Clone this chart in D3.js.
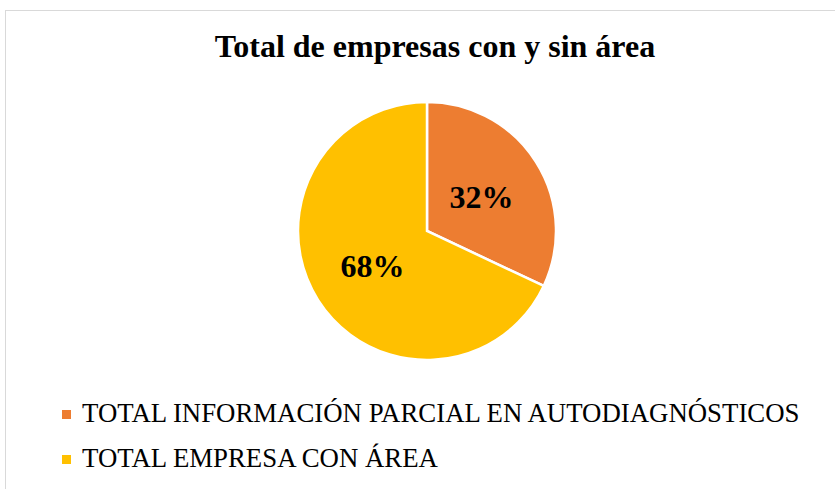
<!DOCTYPE html>
<html>
<head>
<meta charset="utf-8">
<script src="https://cdn.jsdelivr.net/npm/d3@7"></script>
<style>
    body { margin: 0; background: #fff; }
</style>
</head>
<body>
<div id="chart"></div>
<script>
var title = "Total de empresas con y sin área";
var categories = ["TOTAL INFORMACIÓN PARCIAL EN AUTODIAGNÓSTICOS", "TOTAL EMPRESA CON ÁREA"];
var values = [32, 68];
var colors = ["#ED7D31", "#FFC000"];

var width = 835, height = 489;
var cx = 427, cy = 231, radius = 129;

var svg = d3.select("#chart").append("svg")
    .attr("width", width)
    .attr("height", height);

//Chart frame
svg.append("rect")
    .attr("x", 5.5).attr("y", 10.5)
    .attr("width", 840).attr("height", 490)
    .attr("fill", "none")
    .attr("stroke", "#d9d9d9")
    .attr("stroke-width", 1);

svg.append("text")
    .attr("x", 435).attr("y", 57)
    .attr("text-anchor", "middle")
    .attr("font-family", "Liberation Serif, serif")
    .attr("font-weight", "bold")
    .attr("font-size", 32)
    .text(title);

var pie = d3.pie().sort(null).value(function (d) { return d; });
var arcs = pie(values);
var arc = d3.arc().innerRadius(0).outerRadius(radius);
var labelArc = d3.arc().innerRadius(radius * 0.5).outerRadius(radius * 0.5);

var g = svg.append("g").attr("transform", "translate(" + cx + "," + cy + ")");

g.selectAll("path")
    .data(arcs)
    .enter().append("path")
    .attr("d", arc)
    .attr("fill", function (d, i) { return colors[i]; })
    .attr("stroke", "#fff")
    .attr("stroke-width", 2.5);

var total = d3.sum(values);
g.selectAll("text")
    .data(arcs)
    .enter().append("text")
    .attr("transform", function (d) { return "translate(" + labelArc.centroid(d) + ")"; })
    .attr("text-anchor", "middle")
    .attr("dy", "0.35em")
    .attr("font-family", "Liberation Serif, serif")
    .attr("font-weight", "bold")
    .attr("font-size", 32)
    .text(function (d) { return Math.round(d.data / total * 100) + "%"; });

//Legend
var legend = svg.selectAll(".legend")
    .data(categories)
    .enter().append("g")
    .attr("class", "legend")
    .attr("transform", function (d, i) { return "translate(62," + (422 + i * 45) + ")"; });

legend.append("rect")
    .attr("x", 0).attr("y", -12)
    .attr("width", 9).attr("height", 9)
    .attr("fill", function (d, i) { return colors[i]; });

legend.append("text")
    .attr("x", 20).attr("y", 0)
    .attr("font-family", "Liberation Serif, serif")
    .attr("font-size", 26.8)
    .attr("fill", "#000")
    .text(function (d) { return d; });
</script>
</body>
</html>
